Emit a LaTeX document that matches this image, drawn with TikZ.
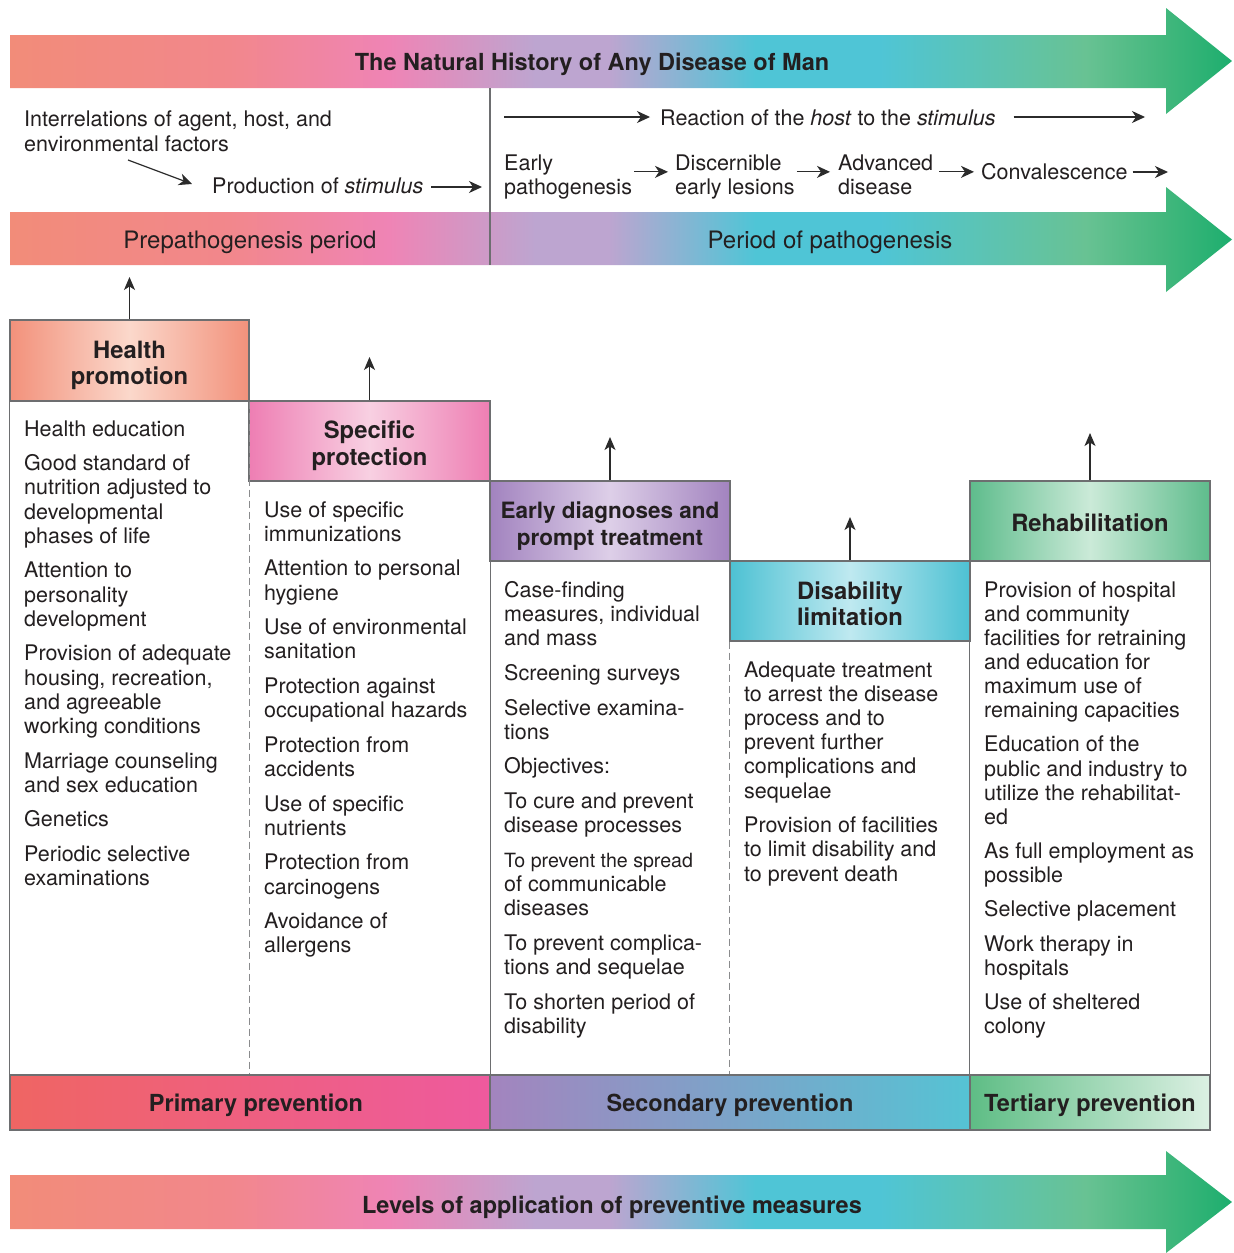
\documentclass[tikz,border=0pt]{standalone}
\usepackage{fontspec}
\setmainfont{TeX Gyre Heros}
\usetikzlibrary{arrows.meta}
\definecolor{textc}{HTML}{231F20}
\definecolor{lineg}{HTML}{6D6E70}
\definecolor{dashg}{HTML}{8A8B8D}
\definecolor{arrc}{HTML}{2B2B2B}
\definecolor{cA}{HTML}{F28C79}
\definecolor{cA2}{HTML}{F2878C}
\definecolor{cB}{HTML}{EF84B5}
\definecolor{cC}{HTML}{BDA5D0}
\definecolor{cD}{HTML}{4FC5D6}
\definecolor{cE}{HTML}{68C293}
\definecolor{cE2}{HTML}{45B87E}
\definecolor{cF}{HTML}{1DAE6E}
\definecolor{hpE}{HTML}{F2917B}
\definecolor{hpC}{HTML}{FBD8CB}
\definecolor{spE}{HTML}{EE7EB3}
\definecolor{spC}{HTML}{F8D0E2}
\definecolor{edE}{HTML}{A283BF}
\definecolor{edC}{HTML}{DDCFE8}
\definecolor{dlE}{HTML}{4DC1D3}
\definecolor{dlC}{HTML}{BFE9F0}
\definecolor{rhE}{HTML}{5EBC8C}
\definecolor{rhC}{HTML}{CBEAD8}
\definecolor{ppL}{HTML}{EF6563}
\definecolor{ppR}{HTML}{EE5A9E}
\definecolor{scL}{HTML}{A384BE}
\definecolor{scR}{HTML}{55C3D4}
\definecolor{tpL}{HTML}{5EBD85}
\definecolor{tpR}{HTML}{DCF0E3}
\pgfdeclarehorizontalshading{bigarrow}{100bp}{color(0bp)=(cA); color(25bp)=(cA); color(34bp)=(cA2); color(40.5bp)=(cB); color(46.5bp)=(cC); color(49.5bp)=(cC); color(55.5bp)=(cD); color(60.5bp)=(cD); color(69bp)=(cE); color(72bp)=(cE2); color(75bp)=(cF); color(100bp)=(cF)}
\begin{document}
\begin{tikzpicture}[x=1pt,y=-1pt,
  txt/.style={inner sep=0pt, anchor=north west, align=left, text=textc, font=\fontsize{21.5}{24.2}\selectfont},
  lbl/.style={inner sep=0pt, anchor=base west, text=textc, font=\fontsize{21.5}{24.2}\selectfont},
  big/.style={inner sep=0pt, anchor=base, text=textc, font=\fontsize{23.5}{26}\selectfont\bfseries},
  per/.style={inner sep=0pt, anchor=base, text=textc, font=\fontsize{24}{26}\selectfont},
  hdr/.style={draw=lineg, line width=1.2pt, inner sep=0pt, text=textc, align=center, font=\fontsize{23.8}{26.5}\selectfont\bfseries},
  bar/.style={draw=lineg, line width=1.2pt, inner sep=0pt, text=textc, font=\fontsize{23.5}{26}\selectfont\bfseries, text height=17pt, text depth=0pt, minimum height=55pt},
  uparr/.style={draw=arrc, line width=1.2pt, -{Stealth[length=13pt,width=11pt,inset=3.5pt]}},
  tarr/.style={draw=arrc, line width=1.2pt, -{Stealth[length=13pt,width=12pt,inset=4pt]}},
  vline/.style={draw=lineg, line width=1.2pt},
  dline/.style={draw=dashg, line width=1.2pt, dash pattern=on 7pt off 4pt}]
\useasboundingbox (0,0) rectangle (1234,1253);
\fill[white] (0,0) rectangle (1234,1253);

% top arrow
\shade[shading=bigarrow] (10,35) -- (1166,35) -- (1166,8) -- (1232,61) -- (1166,114) -- (1166,88) -- (10,88) -- cycle;
\node[big] (title) at (592,70.5) {The Natural History of Any Disease of Man};

% second arrow
\shade[shading=bigarrow] (10,212) -- (1166,212) -- (1166,187) -- (1232,239.5) -- (1166,292) -- (1166,265) -- (10,265) -- cycle;
\node[per] (prep) at (250,248.5) {Prepathogenesis period};
\node[per] (patho) at (830,248.5) {Period of pathogenesis};

\coordinate (vt) at (490,88);
\coordinate (vb) at (490,265);
\draw[vline] (vt) -- (vb);

% top row texts
\node[txt, font=\fontsize{21.5}{25}\selectfont] (intr) at (24,110.3) {Interrelations of agent, host, and\\environmental factors};
\node[lbl] (prod) at (212,193.7) {Production of \textit{stimulus}};
\coordinate (ia) at (128,160);
\coordinate (ib) at (192,184);
\draw[tarr] (ia) -- (ib);
\coordinate (pa) at (482,187);
\draw[tarr, shorten <=8pt] (prod.east |- pa) -- (pa);

\node[lbl] (react) at (660,125.7) {Reaction of the \textit{host} to the \textit{stimulus}};
\coordinate (ra) at (504,117);
\coordinate (rb) at (1145,117);
\draw[tarr, shorten >=10pt] (ra) -- (react.west |- ra);
\draw[tarr, shorten <=18pt] (react.east |- rb) -- (rb);

\node[txt, font=\fontsize{21.5}{24}\selectfont] (early) at (504,154.3) {Early\\pathogenesis};
\node[txt, font=\fontsize{21.5}{24}\selectfont] (disc) at (675,154.3) {Discernible\\early lesions};
\node[txt, font=\fontsize{21.5}{24}\selectfont] (adv) at (838,154.3) {Advanced\\disease};
\node[lbl] (conv) at (981,179.7) {Convalescence};
\coordinate (ce) at (1168,172);
\draw[tarr, shorten <=2pt, shorten >=7pt] (early.east |- conv.west) -- (disc.west |- conv.west);
\draw[tarr, shorten <=2pt, shorten >=8pt] (disc.east |- conv.west) -- (adv.west |- conv.west);
\draw[tarr, shorten <=6pt, shorten >=7pt] (adv.east |- conv.west) -- (conv.west);
\draw[tarr, shorten <=5pt] (conv.east |- ce) -- (ce);

% headers
\node[hdr, minimum width=239pt, minimum height=81pt, left color=hpE, right color=hpE, middle color=hpC] (hp) at (129.5,360.5) {\rule{0pt}{27pt}Health\\promotion};
\node[hdr, minimum width=241pt, minimum height=80pt, left color=spE, right color=spE, middle color=spC] (sp) at (369.5,441) {\rule{0pt}{27pt}Specific\\protection};
\node[hdr, minimum width=240pt, minimum height=80pt, left color=edE, right color=edE, middle color=edC, font=\fontsize{22.5}{26.5}\selectfont\bfseries] (ed) at (610,521) {\rule{0pt}{27pt}Early diagnoses and\\prompt treatment};
\node[hdr, minimum width=240pt, minimum height=80pt, left color=dlE, right color=dlE, middle color=dlC] (dl) at (850,601) {\rule{0pt}{23pt}Disability\\limitation};
\node[hdr, minimum width=240pt, minimum height=80pt, left color=rhE, right color=rhE, middle color=rhC] (rh) at (1090,521) {\rule{0pt}{21pt}Rehabilitation};

% bottom bars
\node[bar, minimum width=480pt, left color=ppL, right color=ppR] (pp) at (250,1102.5) {\hspace*{12pt}Primary prevention};
\node[bar, minimum width=480pt, left color=scL, right color=scR] (sc) at (730,1102.5) {Secondary prevention};
\node[bar, minimum width=240pt, left color=tpL, right color=tpR] (tp) at (1090,1102.5) {Tertiary prevention};

% up arrows
\coordinate (hpT) at (130,277);
\coordinate (spT) at (372,357);
\coordinate (edT) at (608,437);
\coordinate (dlT) at (853,517);
\coordinate (rhT) at (1092,433);
\draw[uparr] (hp.north) -- (hp.north |- hpT);
\draw[uparr] (sp.north) -- (sp.north |- spT);
\draw[uparr] (ed.north) -- (ed.north |- edT);
\draw[uparr] (dl.north) -- (dl.north |- dlT);
\draw[uparr] (rh.north) -- (rh.north |- rhT);

% content borders
\draw[vline] (hp.south west) -- (pp.north west);
\draw[dline] (hp.south east) -- (hp.south east |- pp.north);
\draw[vline] (sp.south east) -- (sp.south east |- pp.north);
\draw[dline] (dl.south west) -- (dl.south west |- sc.north);
\draw[vline] (rh.south west) -- (rh.south west |- tp.north);
\draw[vline] (rh.south east) -- (tp.north east);

% column texts
\node[txt] (c1) at (24,420.2) {Health education\\[10.4pt]
Good standard of\\nutrition adjusted to\\developmental\\phases of life\\[10.4pt]
Attention to\\personality\\development\\[10.4pt]
Provision of adequate\\housing, recreation,\\and agreeable\\working conditions\\[10.4pt]
Marriage counseling\\and sex education\\[10.4pt]
Genetics\\[10.4pt]
Periodic selective\\examinations};

\node[txt] (c2) at (264,501.2) {Use of specific\\immunizations\\[10.4pt]
Attention to personal\\hygiene\\[10.4pt]
Use of environmental\\sanitation\\[10.4pt]
Protection against\\occupational hazards\\[10.4pt]
Protection from\\accidents\\[10.4pt]
Use of specific\\nutrients\\[10.4pt]
Protection from\\carcinogens\\[10.4pt]
Avoidance of\\allergens};

\node[txt] (c3) at (504,581.2) {Case-finding\\measures, individual\\and mass\\[10.4pt]
Screening surveys\\[10.4pt]
Selective examina-\\tions\\[10.4pt]
Objectives:\\[10.4pt]
To cure and prevent\\disease processes\\[10.4pt]
{\fontsize{19.6}{24.2}\selectfont To prevent the spread}\\of communicable\\diseases\\[10.4pt]
To prevent complica-\\tions and sequelae\\[10.4pt]
To shorten period of\\disability};

\node[txt] (c4) at (744,661.2) {Adequate treatment\\to arrest the disease\\process and to\\prevent further\\complications and\\sequelae\\[10.4pt]
Provision of facilities\\to limit disability and\\to prevent death};

\node[txt, font=\fontsize{21.5}{24.1}\selectfont] (c5) at (984,581.2) {Provision of hospital\\and community\\facilities for retraining\\and education for\\maximum use of\\remaining capacities\\[10.2pt]
Education of the\\public and industry to\\utilize the rehabilitat-\\ed\\[10.2pt]
As full employment as\\possible\\[10.2pt]
Selective placement\\[10.2pt]
Work therapy in\\hospitals\\[10.2pt]
Use of sheltered\\colony};

% bottom arrow
\shade[shading=bigarrow] (10,1175) -- (1166,1175) -- (1166,1151) -- (1232,1202) -- (1166,1253) -- (1166,1229) -- (10,1229) -- cycle;
\node[big] (levels) at (612,1213.5) {Levels of application of preventive measures};
\end{tikzpicture}
\end{document}
